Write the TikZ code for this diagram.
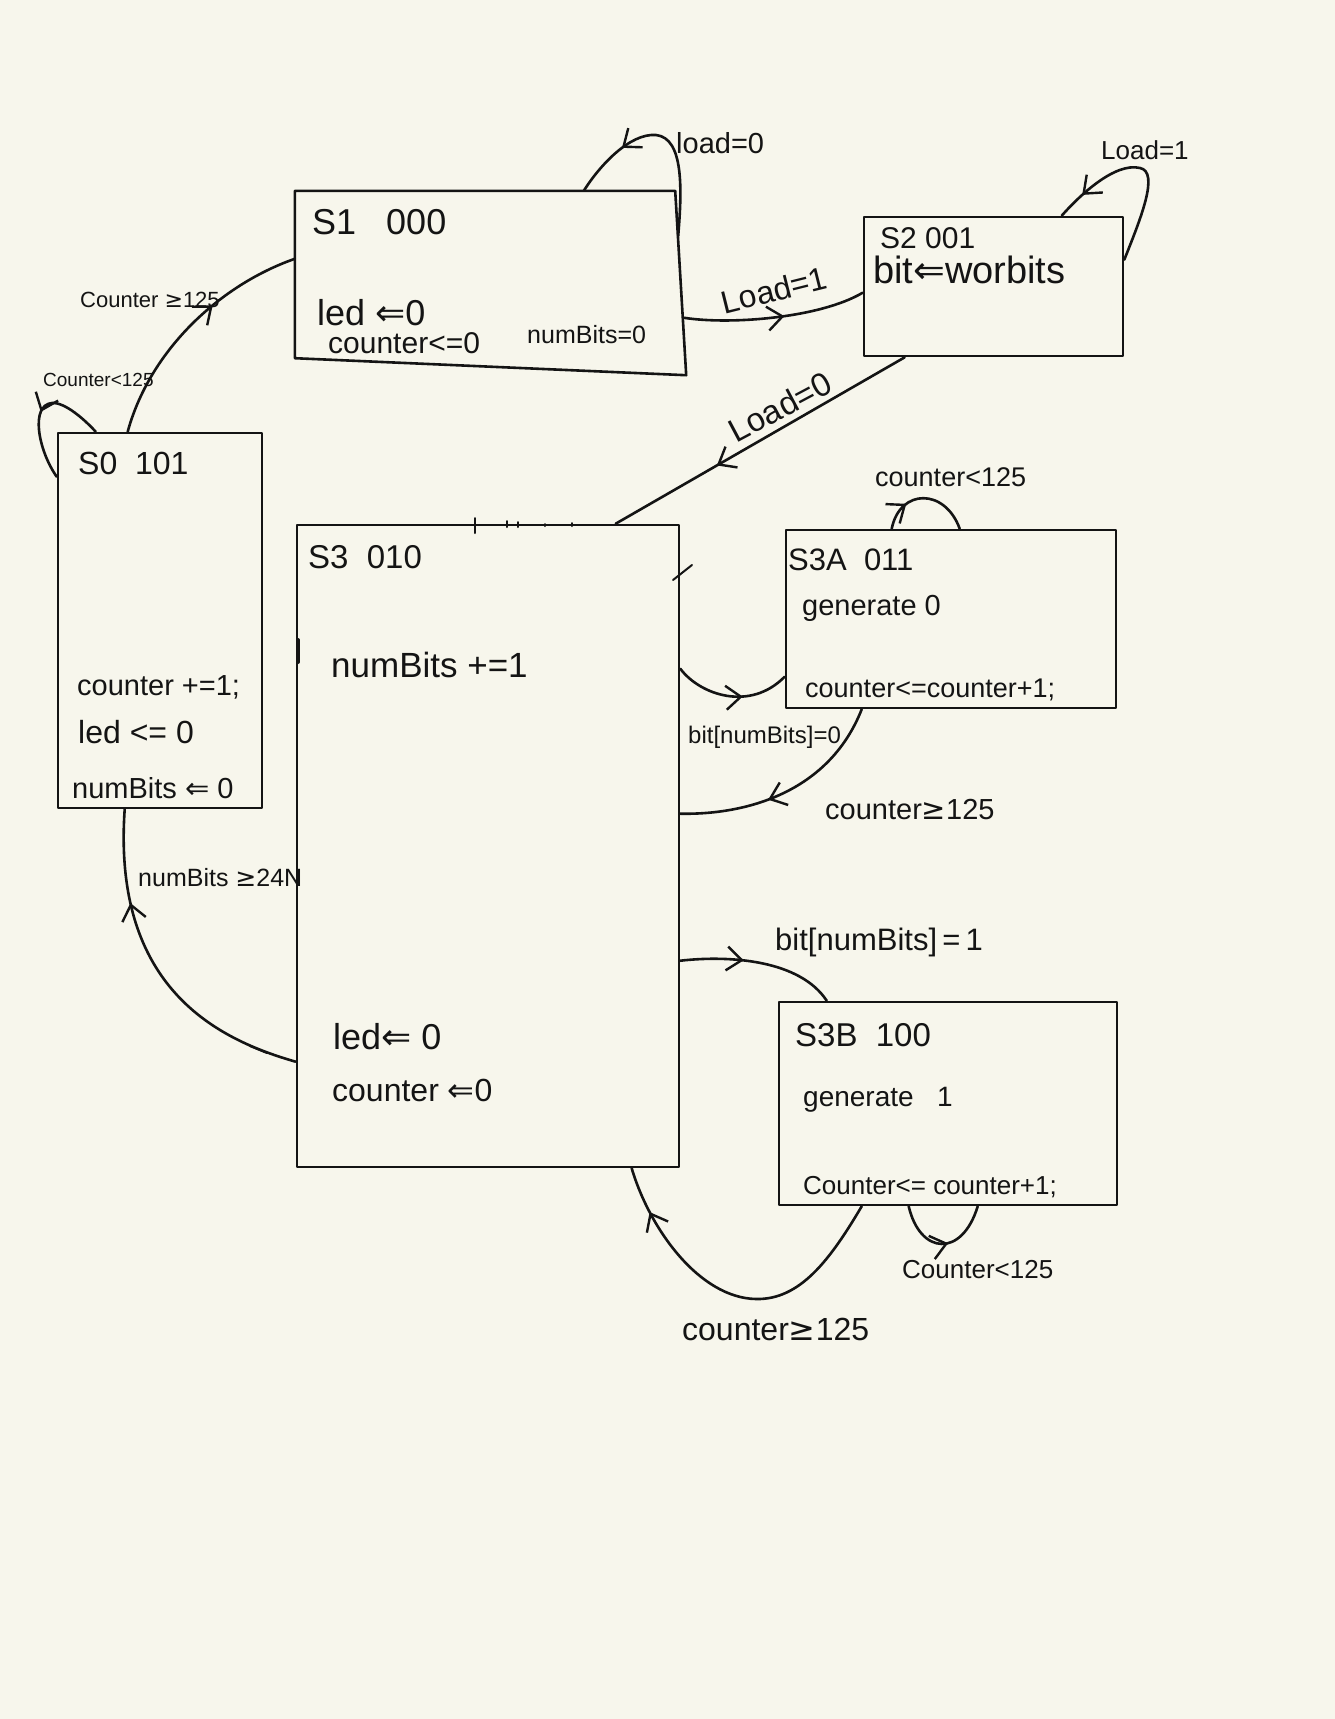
\documentclass[tikz,border=0pt]{standalone}
\usepackage{fontspec}
\setmainfont{Liberation Sans}
\newfontfamily\symfont{DejaVu Sans}
\usetikzlibrary{arrows.meta,decorations.markings,calc}
\newcommand\lar{{\symfont ⇐}}
\newcommand\geqs{{\symfont ≥}}
\newcommand\fsz[1]{\fontsize{#1}{#1}\selectfont}
\definecolor{paper}{RGB}{247,246,236}
\definecolor{inkc}{RGB}{20,20,20}
\begin{document}
\begin{tikzpicture}[x=1pt,y=-1pt,
  ink/.style={line width=2.6pt, draw=inkc, line cap=round, line join=round},
  statebox/.style={ink, rectangle, inner sep=0pt},
  lbl/.style={inner sep=0pt, anchor=west, text=inkc},
  trans/.style={ink},
  midarrow/.style={postaction={decorate}, decoration={markings,
     mark=at position #1 with {\arrow{Straight Barb[length=15pt,width=24pt,line width=2.4pt]}}}}
]
\useasboundingbox (0,0) rectangle (1335,1719);
\fill[paper] (0,0) rectangle (1335,1719);

% ---- states ----
\node[statebox, minimum width=204pt, minimum height=375pt] (s0) at (160,620.5) {};
\node[inner sep=0pt, minimum width=380pt, minimum height=167pt] (s1) at (485,274.5) {};
\draw[ink] (s1.north west) -- (s1.north east) -- ($(s1.south east)+(11,17)$) -- (s1.south west) -- cycle;
\node[statebox, minimum width=259pt, minimum height=139pt] (s2) at (993.5,286.5) {};
\node[statebox, minimum width=382pt, minimum height=642pt] (s3) at (488,846) {};
\node[statebox, minimum width=330pt, minimum height=178pt] (s3a) at (951,619) {};
\node[statebox, minimum width=338pt, minimum height=203pt] (s3b) at (948,1103.5) {};

% ---- state contents ----
\node[lbl, font=\fsz{32}] (s0name) at (78,463) {S0\ \ 101};
\node[lbl, font=\fsz{29}] (s0a) at (77,687) {counter +=1;};
\node[lbl, font=\fsz{32}] (s0b) at (78,732) {led <= 0};
\node[lbl, font=\fsz{29}] (s0c) at (72,788) {numBits \lar{} 0};

\node[lbl, font=\fsz{36}] (s1name) at (312,222) {S1\ \ \ 000};
\node[lbl, font=\fsz{36}] (s1a) at (317,313) {led \lar0};
\node[lbl, font=\fsz{30}] (s1b) at (328,343) {counter<=0};
\node[lbl, font=\fsz{25}] (s1c) at (527,335) {numBits=0};

\node[lbl, font=\fsz{30}] (s2name) at (880,238) {S2 001};
\node[lbl, font=\fsz{38}] (s2a) at (873,270) {bit\lar worbits};

\node[lbl, font=\fsz{33}] (s3name) at (308,557) {S3\ \ 010};
\node[lbl, font=\fsz{35}] (s3a1) at (331,665) {numBits +=1};
\node[lbl, font=\fsz{36}] (s3a2) at (333,1037) {led\lar{} 0};
\node[lbl, font=\fsz{32}] (s3a3) at (332,1090) {counter \lar0};

\node[lbl, font=\fsz{31}] (s3aname) at (788,560) {S3A\ \ 011};
\node[lbl, font=\fsz{29}] (s3ab) at (802,608) {generate 0};
\node[lbl, font=\fsz{27}] (s3ac) at (805,690) {counter<=counter+1;};

\node[lbl, font=\fsz{33}] (s3bname) at (795,1035) {S3B\ \ 100};
\node[lbl, font=\fsz{28}] (s3bb) at (803,1100) {generate\ \ \ 1};
\node[lbl, font=\fsz{26}] (s3bc) at (803,1187) {Counter<= counter+1;};

% ---- transitions ----
% S0 -> S1
\draw[trans, midarrow=0.62] ($(s0.north west)+(71,0)$)
  .. controls (150,350) and (220,285) .. ($(s1.north west)+(0,68)$);
\node[lbl, font=\fsz{22}] (l01) at (80,300) {Counter \geqs125};
% S0 self loop
\draw[trans, midarrow=0.5] ($(s0.north west)+(39,0)$)
  .. controls (85,420) and (65,402) .. (52,403)
  .. controls (30,405) and (38,450) .. ($(s0.north west)+(0,45)$);
\node[lbl, font=\fsz{19}] (l00) at (43,380) {Counter<125};

% S1 self loop
\draw[trans, midarrow=0.72] ($(s1.north east)+(3,45)$)
  .. controls (682,190) and (684,138) .. (656,135)
  .. controls (630,133) and (600,165) .. ($(s1.north west)+(289,0)$);
\node[lbl, font=\fsz{29}] (l11) at (676,143) {load=0};

% S1 -> S2
\draw[trans, midarrow=0.55] ($(s1.north east)+(9,127)$)
  .. controls (730,325) and (820,318) .. ($(s2.north west)+(0,77)$);
\node[inner sep=0pt, text=inkc, font=\fsz{32}, rotate=14] (l12) at (774,290) {Load=1};

% S2 self loop
\draw[trans, midarrow=0.85] ($(s2.north east)+(0,44)$)
  .. controls (1140,220) and (1160,172) .. (1140,168)
  .. controls (1115,162) and (1080,195) .. ($(s2.north west)+(199,0)$);
\node[lbl, font=\fsz{26}] (l22) at (1101,150) {Load=1};

% S2 -> S3
\draw[trans, midarrow=0.65] ($(s2.south west)+(42,0)$) -- ($(s3.north west)+(320,0)$);
\node[inner sep=0pt, text=inkc, font=\fsz{33}, rotate=28] (l23) at (780,407) {Load=0};

% S3 -> S3A
\draw[trans, midarrow=0.6] ($(s3.north east)+(0,145)$)
  .. controls (700,695) and (750,712) .. ($(s3a.north west)+(0,148)$);
\node[lbl, font=\fsz{24}] (l3a) at (688,737) {bit[numBits]=0};

% S3A self loop
\draw[trans, midarrow=0.3] ($(s3a.north west)+(107,0)$)
  .. controls (900,488) and (945,488) .. ($(s3a.north west)+(175,0)$);
\node[lbl, font=\fsz{27}] (l3aa) at (875,477) {counter<125};

% S3A -> S3
\draw[trans, midarrow=0.6] ($(s3a.south west)+(77,0)$)
  .. controls (830,790) and (750,815) .. ($(s3.north east)+(0,290)$);
\node[lbl, font=\fsz{29}] (l3a3) at (825,810) {counter\geqs125};

% S3 -> S3B
\draw[trans, midarrow=0.4] ($(s3.north east)+(0,437)$)
  .. controls (730,955) and (800,960) .. ($(s3b.north west)+(49,0)$);
\node[lbl, font=\fsz{31}] (l3b) at (775,942) {bit[numBits]\,=\,1};

% S3B self loop
\draw[trans, midarrow=0.55] ($(s3b.south west)+(131,0)$)
  .. controls (920,1255) and (962,1258) .. ($(s3b.south west)+(200,0)$);
\node[lbl, font=\fsz{26}] (l3bb) at (902,1270) {Counter<125};

% S3B -> S3
\draw[trans, midarrow=0.86] ($(s3b.south west)+(84,0)$)
  .. controls (830,1260) and (800,1300) .. (756,1299)
  .. controls (700,1298) and (650,1230) .. ($(s3.south west)+(336,0)$);
\node[lbl, font=\fsz{32}] (l3b3) at (682,1329) {counter\geqs125};

% S3 -> S0
\draw[trans, midarrow=0.72] ($(s3.north west)+(0,538)$)
  .. controls (220,1040) and (112,990) .. ($(s0.south west)+(68,0)$);
\node[lbl, font=\fsz{25}] (l30) at (138,878) {numBits \geqs24N};

% ---- stray pen marks ----
\draw[ink, line width=2pt] (475,518) -- (475,533);
\draw[ink, line width=2pt] (507,521) -- (507,527) (518,522) -- (518,527) (545,524) -- (545,526) (572,523) -- (572,526);
\draw[ink, line width=2pt] (673,580) -- (692,565);
\draw[ink, line width=4pt] (298,640) -- (298,662);
\draw[ink, line width=2pt] (250,1046) -- (267,1053);
\end{tikzpicture}
\end{document}
